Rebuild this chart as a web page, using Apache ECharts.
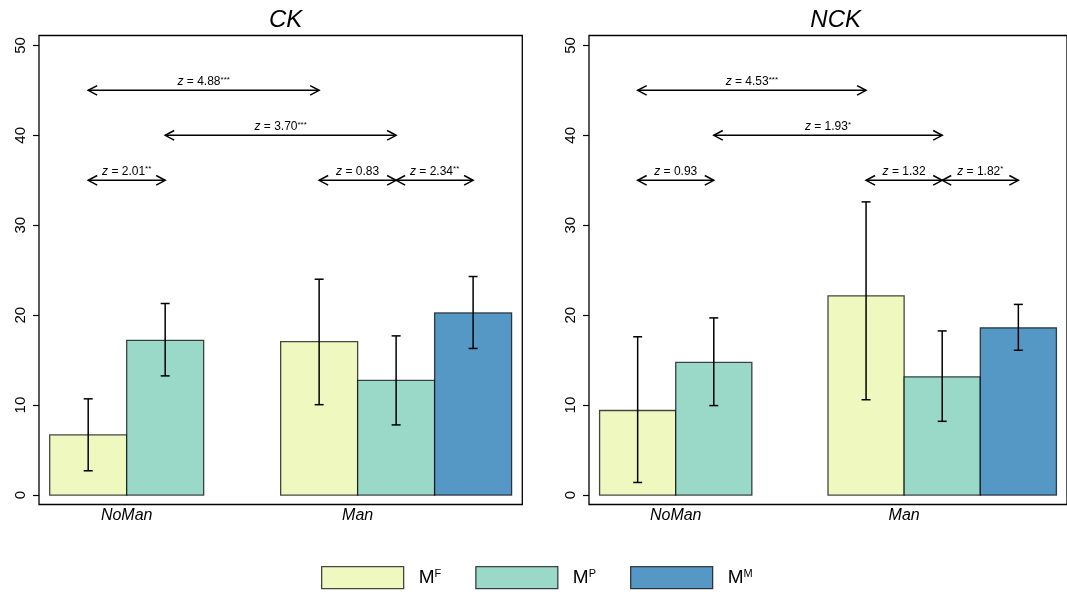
<!DOCTYPE html>
<html>
<head>
<meta charset="utf-8">
<script src="https://cdn.jsdelivr.net/npm/echarts@6/dist/echarts.min.js"></script>
<style>html,body{margin:0;padding:0;background:#fff;}#c{width:1067px;height:594px;}</style>
</head>
<body>
<div id="c"></div>
<script>
// ---------- data ----------
const groups = ['NoMan', 'Man'];
const seriesKeys = ['MF', 'MP', 'MM'];
const seriesSup = ['F', 'P', 'M'];
const panelTitles = ['CK', 'NCK'];

// CK panel: means and interval bounds per group [NoMan, Man]
const ckMF = [6.7, 17.05];
const ckMP = [17.2, 12.75];
const ckMM = [null, 20.25];
const ckMFlow = [2.7, 10.05];
const ckMFhigh = [10.7, 24.0];
const ckMPlow = [13.25, 7.8];
const ckMPhigh = [21.3, 17.7];
const ckMMlow = [null, 16.3];
const ckMMhigh = [null, 24.3];

// NCK panel
const nckMF = [9.4, 22.15];
const nckMP = [14.75, 13.15];
const nckMM = [null, 18.6];
const nckMFlow = [1.4, 10.6];
const nckMFhigh = [17.6, 32.6];
const nckMPlow = [9.95, 8.2];
const nckMPhigh = [19.7, 18.25];
const nckMMlow = [null, 16.1];
const nckMMhigh = [null, 21.2];

// comparison arrows: [group, series] endpoints, level, z value, significance
const arrowFrom = [[0, 0], [0, 1], [0, 0], [1, 0], [1, 1]];
const arrowTo = [[1, 0], [1, 1], [0, 1], [1, 1], [1, 2]];
const arrowLevel = [45, 40, 35, 35, 35];
const ckZ = ['4.88', '3.70', '2.01', '0.83', '2.34'];
const ckSig = ['***', '***', '**', '', '**'];
const nckZ = ['4.53', '1.93', '0.93', '1.32', '1.82'];
const nckSig = ['***', '*', '', '', '*'];

const yTicks = [0, 10, 20, 30, 40, 50];

// ---------- styles ----------
const FONT = '"Liberation Sans", Arial, Helvetica, sans-serif';
const colors = ['#EFF8BF', '#9AD8C8', '#5598C6'];
const STROKE = 'rgba(0,0,0,0.72)';

const panels = [
  { mean: [ckMF, ckMP, ckMM], low: [ckMFlow, ckMPlow, ckMMlow], high: [ckMFhigh, ckMPhigh, ckMMhigh], z: ckZ, sig: ckSig },
  { mean: [nckMF, nckMP, nckMM], low: [nckMFlow, nckMPlow, nckMMlow], high: [nckMFhigh, nckMPhigh, nckMMhigh], z: nckZ, sig: nckSig }
];

const slotOf = (g, s) => g * seriesKeys.length + s;

const grids = [
  { left: 39, top: 35.5, width: 483.3, height: 469 },
  { left: 589, top: 35.5, width: 483.3, height: 469 }
];

const xAxes = [], yAxes = [], series = [], titles = [];
grids.forEach((g, pi) => {
  g.show = true; g.borderColor = '#000'; g.borderWidth = 1.3; g.backgroundColor = 'transparent';
  g.containLabel = false;
  xAxes.push({
    type: 'value', gridIndex: pi, min: -0.639, max: 5.639, position: 'bottom',
    axisLine: { show: false, onZero: false }, axisTick: { show: false }, splitLine: { show: false },
    axisLabel: {
      customValues: groups.map((_, gi) => slotOf(gi, 0) + 0.5),
      formatter: v => groups[Math.round((v - 0.5) / seriesKeys.length)],
      fontFamily: FONT, fontSize: 16, fontStyle: 'italic', color: '#000', margin: 3
    }
  });
  yAxes.push({
    type: 'value', gridIndex: pi, min: -1.05, max: 51.1, position: 'left',
    axisLine: { show: false, onZero: false }, splitLine: { show: false },
    axisTick: { show: true, customValues: yTicks, length: 6, lineStyle: { color: '#000', width: 1.2 } },
    axisLabel: { customValues: yTicks, rotate: 90, margin: 11, fontFamily: FONT, fontSize: 15, color: '#000' }
  });
  titles.push({
    text: panelTitles[pi], left: g.left + g.width / 2, top: 3, textAlign: 'center',
    textStyle: { fontFamily: FONT, fontSize: 24, fontStyle: 'italic', fontWeight: 'normal', color: '#000' }
  });

  const P = panels[pi];
  // bars
  seriesKeys.forEach((key, si) => {
    const data = [];
    groups.forEach((_, gi) => {
      const v = P.mean[si][gi];
      if (v != null) data.push([slotOf(gi, si), v]);
    });
    series.push({
      type: 'custom', name: key, xAxisIndex: pi, yAxisIndex: pi, z: 2,
      itemStyle: { color: colors[si] },
      data: data,
      renderItem: (params, api) => {
        const s = api.value(0), v = api.value(1);
        const a = api.coord([s - 0.5, v]);
        const b = api.coord([s + 0.5, 0]);
        return { type: 'rect', shape: { x: a[0], y: a[1], width: b[0] - a[0], height: b[1] - a[1] },
          style: { fill: colors[si], stroke: STROKE, lineWidth: 1.3 } };
      }
    });
  });
  // error bars
  const eb = [];
  seriesKeys.forEach((key, si) => {
    groups.forEach((_, gi) => {
      const lo = P.low[si][gi], hi = P.high[si][gi];
      if (lo != null) eb.push([slotOf(gi, si), lo, hi]);
    });
  });
  series.push({
    type: 'custom', xAxisIndex: pi, yAxisIndex: pi, z: 3, data: eb,
    encode: { x: 0, y: [1, 2] },
    renderItem: (params, api) => {
      const s = api.value(0);
      const lo = api.coord([s, api.value(1)]);
      const hi = api.coord([s, api.value(2)]);
      const w = 4.5;
      const st = { stroke: '#000', lineWidth: 1.5, fill: null };
      return { type: 'group', children: [
        { type: 'line', shape: { x1: lo[0], y1: lo[1], x2: hi[0], y2: hi[1] }, style: st },
        { type: 'line', shape: { x1: lo[0] - w, y1: lo[1], x2: lo[0] + w, y2: lo[1] }, style: st },
        { type: 'line', shape: { x1: hi[0] - w, y1: hi[1], x2: hi[0] + w, y2: hi[1] }, style: st }
      ] };
    }
  });
  // arrows
  const ar = arrowFrom.map((f, i) => [slotOf(f[0], f[1]), slotOf(arrowTo[i][0], arrowTo[i][1]), arrowLevel[i], i]);
  series.push({
    type: 'custom', xAxisIndex: pi, yAxisIndex: pi, z: 4, data: ar,
    encode: { x: [0, 1], y: 2 },
    renderItem: (params, api) => {
      const i = api.value(3);
      const p1 = api.coord([api.value(0), api.value(2)]);
      const p2 = api.coord([api.value(1), api.value(2)]);
      const L = 9, H = 4.8;
      const st = { stroke: '#000', lineWidth: 1.5, fill: null };
      let txt = '{i|z}{n| = ' + P.z[i] + '}';
      if (P.sig[i]) txt += '{s|' + P.sig[i] + '}';
      return { type: 'group', children: [
        { type: 'line', shape: { x1: p1[0], y1: p1[1], x2: p2[0], y2: p2[1] }, style: st },
        { type: 'polyline', shape: { points: [[p1[0] + L, p1[1] - H], [p1[0], p1[1]], [p1[0] + L, p1[1] + H]] }, style: st },
        { type: 'polyline', shape: { points: [[p2[0] - L, p2[1] - H], [p2[0], p2[1]], [p2[0] - L, p2[1] + H]] }, style: st },
        { type: 'text', x: (p1[0] + p2[0]) / 2, y: p1[1] - 9,
          style: { text: txt, align: 'center', verticalAlign: 'middle', fill: '#000', fontFamily: FONT, fontSize: 12,
            rich: {
              i: { fontStyle: 'italic', fontSize: 12, fontFamily: FONT, fill: '#000' },
              n: { fontSize: 12, fontFamily: FONT, fill: '#000' },
              s: { fontSize: 8, fontFamily: FONT, fill: '#000', verticalAlign: 'top' }
            } } }
      ] };
    }
  });
});

const chart = echarts.init(document.getElementById('c'), null, { renderer: 'canvas' });
chart.setOption({
  animation: false,
  backgroundColor: '#fff',
  title: titles,
  grid: grids,
  xAxis: xAxes,
  yAxis: yAxes,
  legend: {
    data: seriesKeys, left: 316, top: 561, icon: 'rect', itemWidth: 82, itemHeight: 22, itemGap: 34,
    selectedMode: false,
    itemStyle: { borderColor: STROKE, borderWidth: 1.3 },
    formatter: name => '{m|M}{s|' + seriesSup[seriesKeys.indexOf(name)] + '}',
    textStyle: {
      padding: [0, 0, 0, 10], color: '#000',
      rich: {
        m: { fontSize: 19, fontFamily: FONT, color: '#000' },
        s: { fontSize: 11, fontFamily: FONT, color: '#000', verticalAlign: 'top' }
      }
    }
  },
  series: series
});
</script>
</body>
</html>
